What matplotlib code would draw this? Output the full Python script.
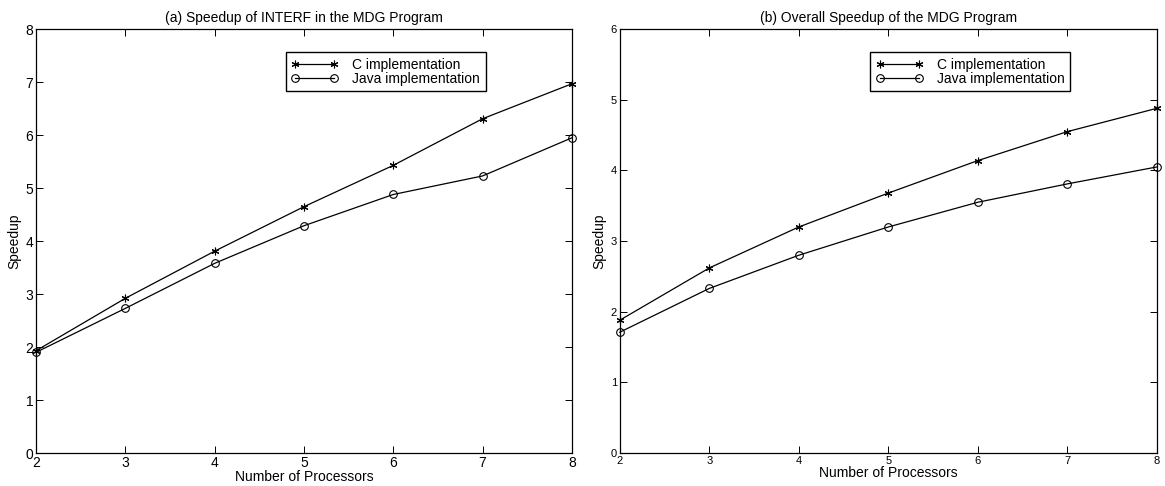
import matplotlib.pyplot as plt

plt.rcParams["font.family"] = ["Liberation Sans", "DejaVu Sans"]

procs = [2, 3, 4, 5, 6, 7, 8]

# (a) speedup of INTERF
interf_c = [1.93, 2.92, 3.81, 4.65, 5.43, 6.31, 6.97]
interf_java = [1.90, 2.73, 3.58, 4.29, 4.88, 5.23, 5.95]

# (b) overall speedup
overall_c = [1.88, 2.62, 3.20, 3.68, 4.14, 4.55, 4.88]
overall_java = [1.71, 2.33, 2.80, 3.20, 3.55, 3.81, 4.05]

titles = ["(a) Speedup of INTERF in the MDG Program",
          "(b) Overall Speedup of the MDG Program"]
ymaxes = [8, 6]


def draw(ax, c_vals, java_vals, title, ymax, tick_fs):
    ax.plot(procs, c_vals, color="black", lw=0.9, marker=(6, 2, 0),
            ms=5.5, mew=0.8, label="C implementation", clip_on=False)
    ax.plot(procs, java_vals, color="black", lw=0.9, marker="o", ms=5.5,
            mfc="none", mew=0.8, label="Java implementation", clip_on=False)
    ax.set_xlim(2, 8)
    ax.set_ylim(0, ymax)
    ax.set_xticks(procs)
    ax.set_yticks(range(ymax + 1))
    ax.tick_params(direction="in", top=True, right=True, length=5,
                   width=0.7, labelsize=tick_fs, pad=2)
    for s in ax.spines.values():
        s.set_linewidth(0.9)
    ax.set_title(title, fontsize=10, pad=5)
    ax.set_xlabel("Number of Processors", fontsize=10, labelpad=0)
    ax.set_ylabel("Speedup", fontsize=10, labelpad=3)
    leg = ax.legend(loc="upper left", bbox_to_anchor=(0.466, 0.946),
                    numpoints=2, fontsize=10, frameon=True, fancybox=False,
                    edgecolor="black", framealpha=1, borderpad=0.4,
                    labelspacing=0.0, handlelength=3.4, handletextpad=1.0,
                    borderaxespad=0)
    leg.get_frame().set_linewidth(1.0)


fig = plt.figure(figsize=(11.65, 4.86), dpi=100)
ax1 = fig.add_axes([0.0309, 0.0679, 0.460, 0.872])
ax2 = fig.add_axes([0.532, 0.0679, 0.461, 0.872])

draw(ax1, interf_c, interf_java, titles[0], ymaxes[0], 10)
draw(ax2, overall_c, overall_java, titles[1], ymaxes[1], 8)

fig.savefig("out.png", dpi=100)
